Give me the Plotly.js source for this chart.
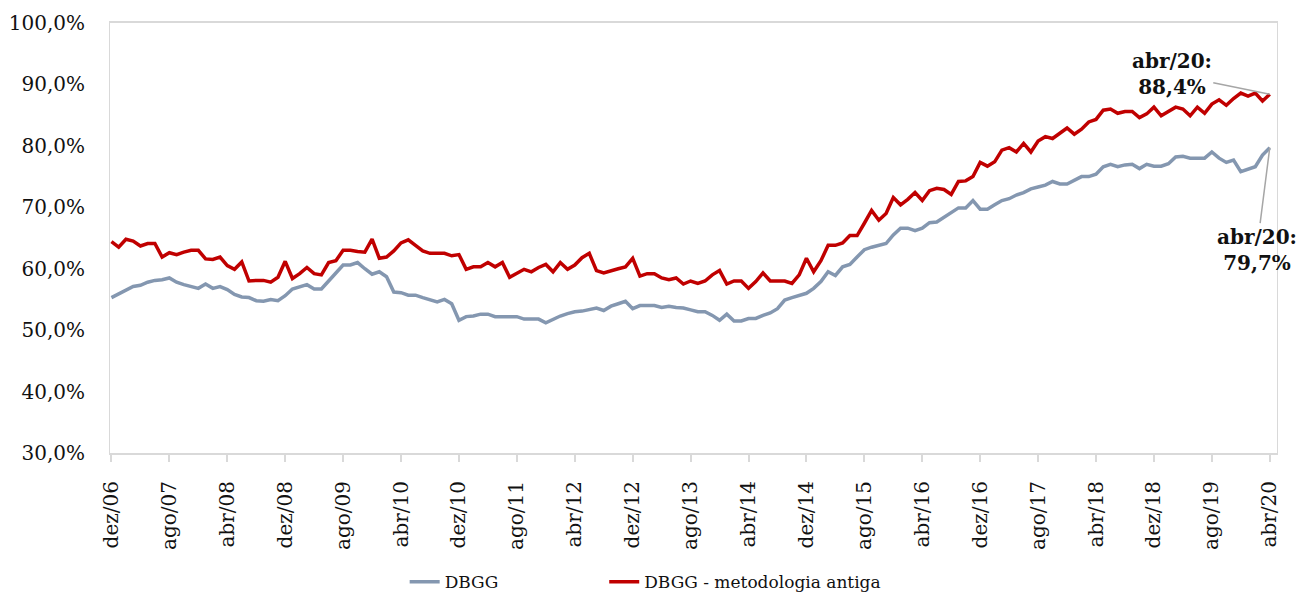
<!DOCTYPE html>
<html>
<head>
<meta charset="utf-8">
<script src="https://cdn.plot.ly/plotly-3.0.1.min.js"></script>
<style>
  html, body { margin: 0; padding: 0; background: #fff; }
  #grafico { width: 1298px; height: 594px; }
</style>
</head>
<body>
<div id="grafico"></div>
<script>
// meses: dez/06 ate abr/20
let meses = ['jan','fev','mar','abr','mai','jun','jul','ago','set','out','nov','dez'];
let rotulos = new Array();
for(let i=0; i<161; i++){
  let m = (11 + i) % 12;
  let ano = 6 + Math.floor((11 + i) / 12);
  rotulos.push(meses[m] + '/' + String(ano).padStart(2,'0'));
}

// DBGG (% do PIB)
let dbgg = [
  55.3, 55.9, 56.6, 57.1, 57.3, 57.8, 58.1, 58.2, 58.5, 57.8, 57.4, 57.1,
  56.8, 57.5, 56.8, 57.1, 56.6, 55.8, 55.4, 55.3, 54.8, 54.7, 55.0, 54.8,
  55.6, 56.7, 57.1, 57.4, 56.7, 56.7, 58.0, 59.2, 60.6, 60.6, 61.0, 60.0,
  59.1, 59.5, 58.7, 56.2, 56.1, 55.7, 55.7, 55.3, 55.0, 54.6, 55.0, 54.3,
  51.6, 52.2, 52.3, 52.6, 52.6, 52.2, 52.2, 52.2, 52.2, 51.8, 51.8, 51.8,
  51.2, 51.8, 52.3, 52.7, 53.0, 53.1, 53.4, 53.6, 53.2, 53.9, 54.3, 54.7,
  53.5, 54.0, 54.0, 54.0, 53.7, 53.9, 53.7, 53.6, 53.3, 53.0, 53.0, 52.4,
  51.6, 52.6, 51.5, 51.5, 51.9, 51.9, 52.4, 52.8, 53.5, 54.9, 55.3, 55.6,
  56.0, 56.8, 57.9, 59.5, 58.9, 60.3, 60.7, 61.9, 63.1, 63.5, 63.8, 64.1,
  65.5, 66.6, 66.6, 66.2, 66.6, 67.5, 67.6, 68.4, 69.2, 69.9, 69.9, 71.1,
  69.7, 69.7, 70.4, 71.1, 71.4, 72.0, 72.4, 73.0, 73.3, 73.6, 74.2, 73.8,
  73.8, 74.4, 75.0, 75.0, 75.4, 76.6, 77.0, 76.6, 76.9, 77.0, 76.3, 77.0,
  76.7, 76.7, 77.1, 78.2, 78.3, 78.0, 78.0, 78.0, 79.0, 78.0, 77.3, 77.7,
  75.8, 76.2, 76.6, 78.5, 79.7
];

// DBGG - metodologia antiga
let dbgg_antiga = [
  64.4, 63.5, 64.8, 64.5, 63.7, 64.1, 64.1, 61.9, 62.6, 62.3, 62.7, 63.0,
  63.0, 61.6, 61.5, 61.9, 60.5, 59.9, 61.1, 58.0, 58.1, 58.1, 57.8, 58.6,
  61.2, 58.4, 59.2, 60.2, 59.2, 59.0, 61.0, 61.3, 63.0, 63.0, 62.8, 62.7,
  64.8, 61.7, 61.9, 62.9, 64.2, 64.7, 63.8, 62.9, 62.5, 62.5, 62.5, 62.1,
  62.3, 59.9, 60.3, 60.3, 61.0, 60.3, 61.0, 58.6, 59.2, 59.9, 59.5, 60.2,
  60.7, 59.5, 61.0, 59.9, 60.6, 61.8, 62.5, 59.7, 59.3, 59.7, 60.0, 60.3,
  61.7, 58.8, 59.2, 59.2, 58.5, 58.2, 58.5, 57.5, 58.0, 57.6, 58.0, 59.0,
  59.7, 57.5, 58.0, 58.0, 56.8, 57.9, 59.3, 58.0, 58.0, 58.0, 57.6, 59.0,
  61.7, 59.5, 61.3, 63.8, 63.8, 64.2, 65.4, 65.4, 67.4, 69.5, 67.9, 69.0,
  71.6, 70.4, 71.3, 72.4, 71.1, 72.7, 73.1, 72.9, 72.1, 74.2, 74.3, 75.0,
  77.3, 76.7, 77.4, 79.3, 79.7, 79.0, 80.4, 79.0, 80.8, 81.5, 81.2, 82.1,
  82.9, 81.9, 82.7, 83.9, 84.3, 85.8, 86.0, 85.3, 85.6, 85.6, 84.6, 85.2,
  86.3, 84.9, 85.6, 86.3, 86.0, 84.9, 86.3, 85.3, 86.8, 87.5, 86.6, 87.7,
  88.6, 88.1, 88.6, 87.3, 88.4
];

// rotulos do eixo x a cada 8 meses
let ticks_x = rotulos.filter((r, idx) => idx % 8 == 0);

let ultimo = rotulos.length - 1;
let fmt = v => v.toFixed(1).replace('.', ',') + '%';

let traces = [{
  type: 'scatter',
  mode: 'lines',
  x: rotulos,
  y: dbgg,
  name: 'DBGG',
  legend: 'legend',
  line: {color: '#8497b0', width: 3.5}
},{
  type: 'scatter',
  mode: 'lines',
  x: rotulos,
  y: dbgg_antiga,
  name: 'DBGG - metodologia antiga',
  legend: 'legend2',
  line: {color: '#c00000', width: 3.5}
}];

let fonte = {family: '"DejaVu Serif", "Liberation Serif", serif', size: 20, color: '#111'};
let fonte_leg = {family: '"DejaVu Serif", serif', size: 17, color: '#111'};

let layout = {
  width: 1298,
  height: 594,
  margin: {l: 110, r: 21, t: 23, b: 141, autoexpand: false},
  paper_bgcolor: '#fff',
  plot_bgcolor: '#fff',
  separators: ',.',
  font: fonte,
  showlegend: true,
  legend: {
    orientation: 'h',
    x: 0.2525, xanchor: 'left',
    yref: 'container', y: 0.02, yanchor: 'middle',
    font: fonte_leg
  },
  legend2: {
    orientation: 'h',
    x: 0.4235, xanchor: 'left',
    yref: 'container', y: 0.02, yanchor: 'middle',
    font: fonte_leg
  },
  xaxis: {
    type: 'category',
    range: [-0.2, 161.0],
    tickmode: 'array',
    tickvals: ticks_x,
    ticktext: ticks_x,
    tickangle: -90,
    tickfont: {size: 20},
    ticks: 'outside',
    ticklen: 7,
    tickwidth: 2,
    tickcolor: '#d9d9d9',
    ticklabelstandoff: 11,
    automargin: false,
    showline: true,
    linecolor: '#d9d9d9',
    linewidth: 2,
    mirror: true,
    showgrid: false,
    zeroline: false,
    fixedrange: true
  },
  yaxis: {
    range: [30, 100],
    dtick: 10,
    tick0: 30,
    tickformat: '.1f',
    ticksuffix: '%',
    ticks: '',
    ticklabelstandoff: 20,
    automargin: false,
    showline: true,
    linecolor: '#d9d9d9',
    linewidth: 1,
    mirror: true,
    showgrid: false,
    zeroline: false,
    fixedrange: true
  },
  annotations: [{
    x: rotulos[ultimo], y: dbgg_antiga[ultimo],
    xref: 'x', yref: 'y',
    text: '<b>' + rotulos[ultimo] + ':<br>' + fmt(dbgg_antiga[ultimo]) + '</b>',
    showarrow: true, arrowhead: 0, arrowwidth: 1.5, arrowcolor: '#a6a6a6',
    ax: -98, ay: -20, standoff: 0,
    align: 'center',
    font: fonte
  },{
    x: rotulos[ultimo], y: dbgg[ultimo],
    xref: 'x', yref: 'y',
    text: '<b>' + rotulos[ultimo] + ':<br>' + fmt(dbgg[ultimo]) + '</b>',
    showarrow: true, arrowhead: 0, arrowwidth: 1.5, arrowcolor: '#a6a6a6',
    ax: -13, ay: 102, standoff: 0,
    align: 'center',
    font: fonte
  }]
};

Plotly.newPlot('grafico', traces, layout, {displayModeBar: false, responsive: false});
</script>
</body>
</html>
